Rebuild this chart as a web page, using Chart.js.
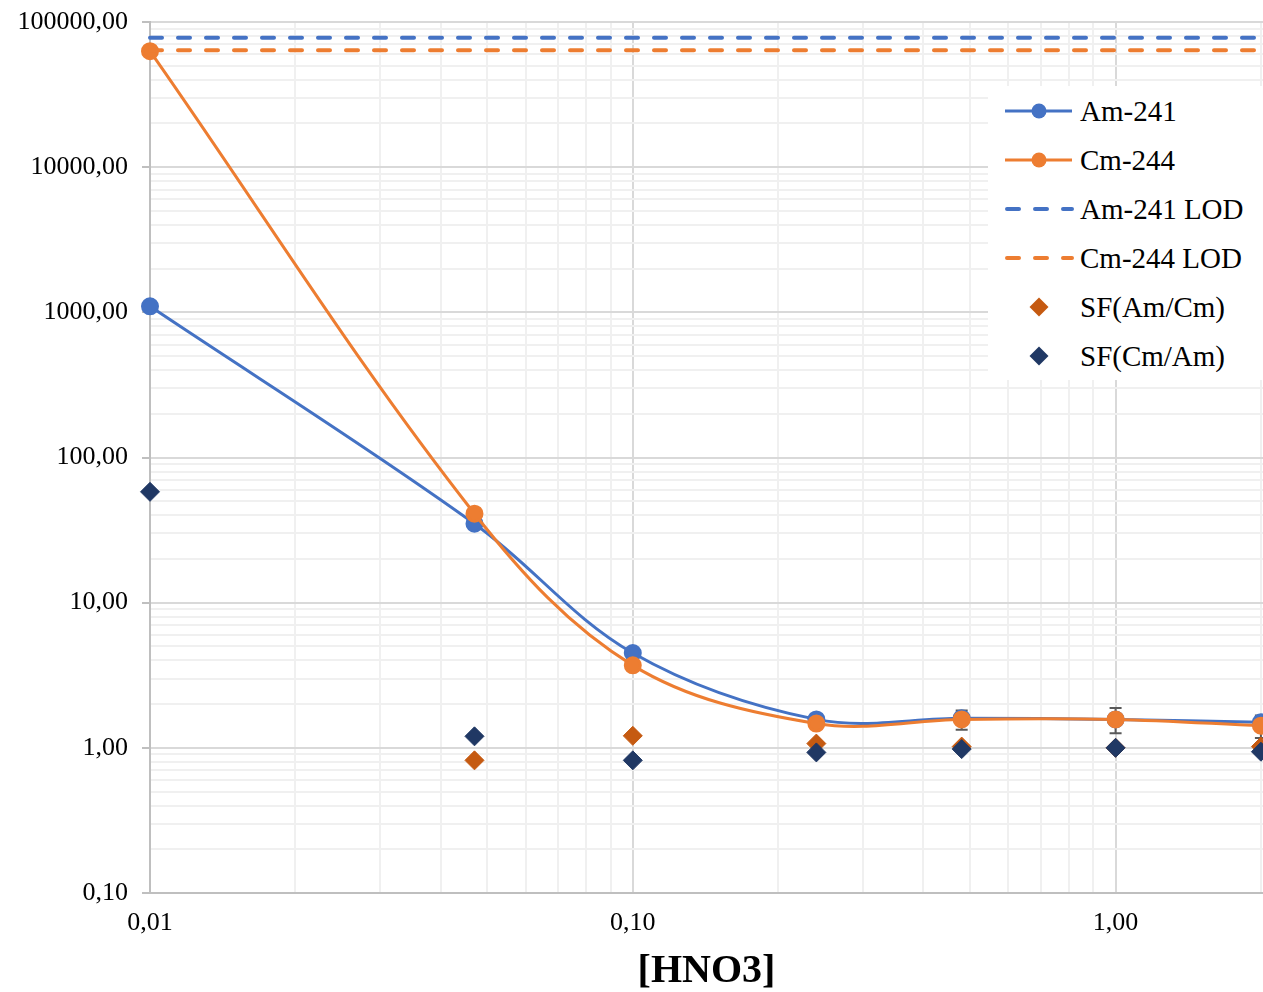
<!DOCTYPE html>
<html>
<head>
<meta charset="utf-8">
<script src="https://cdn.jsdelivr.net/npm/chart.js@4/dist/chart.umd.min.js"></script>
<style>
  body { margin: 0; background: #fff; }
  #wrap { position: relative; width: 1263px; height: 992px; }
  #legend { position: absolute; left: 988px; top: 86px; width: 275px; height: 294px; background: #fff;
            font-family: "Liberation Serif", serif; font-size: 29px; color: #000; }
  .item { position: absolute; left: 0; height: 40px; display: flex; align-items: center; white-space: nowrap; }
  .item svg { margin-left: 16px; margin-right: 6px; }
</style>
</head>
<body>
<div id="wrap">
  <canvas id="myChart" width="1263" height="992"></canvas>
  <div id="legend"></div>
</div>
<script>
// values
const hno3 = [0.01, 0.047, 0.10, 0.24, 0.48, 1.0, 2.0]
const am241 = [1100, 35, 4.5, 1.57, 1.6, 1.57, 1.5]
const cm244 = [63000, 41, 3.7, 1.47, 1.57, 1.57, 1.42]
const cm244Err = [0, 0, 0, 0, 0.24, 0.31, 0.25]
const sfAmCm = [0.017, 0.82, 1.21, 1.07, 1.02, 1.0, 1.02]
const sfCmAm = [58, 1.2, 0.82, 0.93, 0.98, 1.0, 0.94]
const lodX = [0.01, 2.02]
const am241Lod = [78000, 78000]
const cm244Lod = [64000, 64000]

// axis ticks
const xMin = 0.01, xMax = 2.02
const yMin = 0.1, yMax = 100000
const xTickValues = [0.01, 0.1, 1]
const xTickLabels = ['0,01', '0,10', '1,00']
const yTickValues = [0.1, 1, 10, 100, 1000, 10000, 100000]
const yTickLabels = ['0,10', '1,00', '10,00', '100,00', '1000,00', '10000,00', '100000,00']

const FONT = 'Liberation Serif'

function points(xs, ys) {
  return xs.map((x, i) => ({ x: x, y: ys[i] }))
}
function isMajor(v) {
  const l = Math.log10(v)
  return Math.abs(l - Math.round(l)) < 1e-6
}
// major + minor gridline positions (1..9 per decade)
function gridValues(min, max) {
  const out = []
  for (let e = Math.floor(Math.log10(min)); e <= Math.ceil(Math.log10(max)); e++) {
    for (let k = 1; k <= 9; k++) {
      const v = +(k * Math.pow(10, e)).toPrecision(6)
      if (v >= min * 0.999999 && v <= max * 1.000001) out.push(v)
    }
  }
  return out
}
function labelFor(values, labels, v) {
  const i = values.findIndex(t => Math.abs(t - v) / t < 1e-6)
  return i < 0 ? '' : labels[i]
}

// error bars on Cm-244
const errorBars = {
  id: 'errorBars',
  beforeDatasetsDraw(chart) {
    const ctx = chart.ctx, xs = chart.scales.x, ys = chart.scales.y, a = chart.chartArea
    ctx.save()
    ctx.beginPath()
    ctx.rect(a.left, a.top, a.right - a.left, a.bottom - a.top)
    ctx.clip()
    ctx.strokeStyle = '#595959'
    ctx.lineWidth = 2
    hno3.forEach((x, i) => {
      if (!cm244Err[i]) return
      const px = xs.getPixelForValue(x)
      const top = ys.getPixelForValue(cm244[i] + cm244Err[i])
      const bot = ys.getPixelForValue(cm244[i] - cm244Err[i])
      ctx.beginPath()
      ctx.moveTo(px, top); ctx.lineTo(px, bot)
      ctx.moveTo(px - 6, top); ctx.lineTo(px + 6, top)
      ctx.moveTo(px - 6, bot); ctx.lineTo(px + 6, bot)
      ctx.stroke()
    })
    ctx.restore()
  }
}

const datasets = [
  { label: 'Am-241', data: points(hno3, am241), showLine: true, borderColor: '#4472C4', backgroundColor: '#4472C4',
    borderWidth: 3, tension: 0.35, pointRadius: 7.5, pointStyle: 'circle', order: 6, clip: false },
  { label: 'Cm-244', data: points(hno3, cm244), showLine: true, borderColor: '#ED7D31', backgroundColor: '#ED7D31',
    borderWidth: 3, tension: 0.35, pointRadius: 7.5, pointStyle: 'circle', order: 5, clip: false },
  { label: 'Am-241 LOD', data: points(lodX, am241Lod), showLine: true, borderColor: '#4472C4', backgroundColor: '#4472C4',
    borderWidth: 4, borderDash: [12, 16], borderCapStyle: 'round', pointRadius: 0, order: 4, clip: false },
  { label: 'Cm-244 LOD', data: points(lodX, cm244Lod), showLine: true, borderColor: '#ED7D31', backgroundColor: '#ED7D31',
    borderWidth: 4, borderDash: [12, 16], borderCapStyle: 'round', pointRadius: 0, order: 3, clip: false },
  { label: 'SF(Am/Cm)', data: points(hno3, sfAmCm), showLine: false, borderColor: '#C55A11', backgroundColor: '#C55A11',
    pointStyle: 'rectRot', pointRadius: 9.5, pointBorderWidth: 1, order: 2, clip: false },
  { label: 'SF(Cm/Am)', data: points(hno3, sfCmAm), showLine: false, borderColor: '#203864', backgroundColor: '#203864',
    pointStyle: 'rectRot', pointRadius: 9.5, pointBorderWidth: 1, order: 1, clip: false }
]

const ctx = document.getElementById('myChart').getContext('2d')
const chart = new Chart(ctx, {
  type: 'scatter',
  data: { datasets: datasets },
  plugins: [errorBars],
  options: {
    responsive: false,
    animation: false,
    devicePixelRatio: 1,
    layout: { autoPadding: false, padding: { top: 22, right: 0, bottom: 0, left: 0 } },
    plugins: { legend: { display: false }, tooltip: { enabled: false } },
    scales: {
      x: {
        type: 'logarithmic', min: xMin, max: xMax,
        afterBuildTicks: s => { s.ticks = gridValues(xMin, xMax).map(v => ({ value: v })) },
        afterFit: s => { s.height = 99; s.paddingLeft = 0; s.paddingRight = 0 },
        ticks: {
          autoSkip: false, maxRotation: 0, padding: 15, color: '#000',
          font: { family: FONT, size: 26 },
          callback: v => labelFor(xTickValues, xTickLabels, v)
        },
        grid: {
          color: c => (c.tick && isMajor(c.tick.value)) ? '#D9D9D9' : '#F0F0F0',
          lineWidth: 2, drawTicks: false
        },
        border: { color: '#BFBFBF', width: 2 },
        title: { display: true, text: '[HNO3]', color: '#000',
          font: { family: FONT, size: 40, weight: 'bold' }, padding: { top: 0, bottom: -4 } }
      },
      y: {
        type: 'logarithmic', min: yMin, max: yMax,
        afterBuildTicks: s => { s.ticks = gridValues(yMin, yMax).map(v => ({ value: v })) },
        afterFit: s => { s.width = 150; s.paddingTop = 0; s.paddingBottom = 0 },
        ticks: {
          autoSkip: false, padding: 14, color: '#000',
          font: { family: FONT, size: 26 },
          callback: v => labelFor(yTickValues, yTickLabels, v)
        },
        grid: {
          color: c => (c.tick && isMajor(c.tick.value)) ? '#D9D9D9' : '#F0F0F0',
          lineWidth: 2, tickLength: 8, tickWidth: 2,
          tickColor: c => (c.tick && isMajor(c.tick.value)) ? '#BFBFBF' : 'rgba(0,0,0,0)'
        },
        border: { color: '#BFBFBF', width: 2 }
      }
    }
  }
})

// legend in html, built from the datasets
const legend = document.getElementById('legend')
datasets.forEach((d, i) => {
  const item = document.createElement('div')
  item.className = 'item'
  item.style.top = (5 + 49 * i) + 'px'
  let svg = '<svg width="70" height="24" viewBox="0 0 70 24">'
  if (d.showLine) {
    const dash = d.borderDash ? ' stroke-dasharray="' + d.borderDash.join(' ') + '" stroke-linecap="round"' : ''
    const x1 = d.borderDash ? 3 : 1
    svg += '<line x1="' + x1 + '" y1="12" x2="68" y2="12" stroke="' + d.borderColor + '" stroke-width="' + d.borderWidth + '"' + dash + '/>'
  }
  if (d.pointRadius) {
    if (d.pointStyle === 'circle') {
      svg += '<circle cx="35" cy="12" r="' + d.pointRadius + '" fill="' + d.backgroundColor + '"/>'
    } else {
      const r = d.pointRadius
      svg += '<polygon points="35,' + (12 - r) + ' ' + (35 + r) + ',12 35,' + (12 + r) + ' ' + (35 - r) + ',12" fill="' + d.backgroundColor + '"/>'
    }
  }
  svg += '</svg>'
  item.innerHTML = svg + '<span>' + d.label + '</span>'
  legend.appendChild(item)
})
</script>
</body>
</html>
